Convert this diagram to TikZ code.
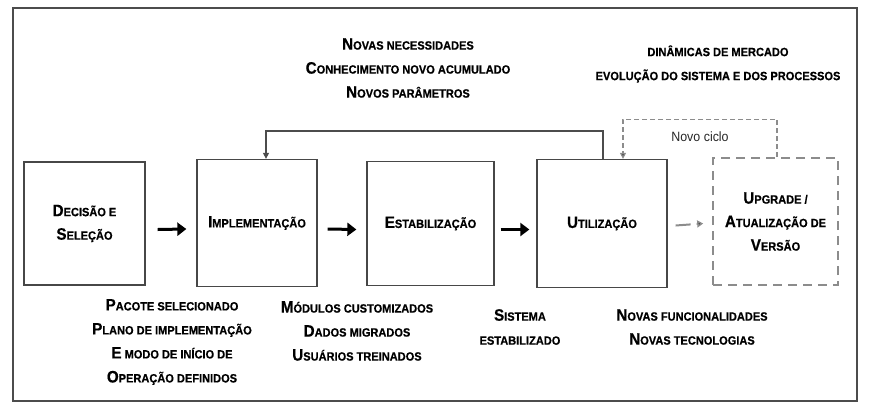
\documentclass[tikz,border=0pt]{standalone}
\usepackage{fontspec}
\setmainfont{Liberation Sans}
\newfontfamily\nb{Liberation Sans}[FakeStretch=0.92,BoldFeatures={FakeBold=0.6}]
\usetikzlibrary{arrows.meta}
\newcommand\SC[2]{{\fontsize{16.5}{16.5}\selectfont #1}{\fontsize{12}{12}\selectfont #2}}
\begin{document}
\begin{tikzpicture}[x=1pt,y=-1pt,
  lbl/.style={align=center,inner sep=0pt,font=\nb\bfseries\fontsize{12}{24}\selectfont},
  stage/.style={draw=black!72,line width=1.3pt,inner sep=0pt,align=center,font=\nb\bfseries\fontsize{12}{23.5}\selectfont},
  dstage/.style={stage,draw=black!45,dash pattern=on 9pt off 6pt,line width=1.6pt},
  bigarrow/.style={line width=3pt,-{Triangle[length=9pt,width=13pt]}},
  fb/.style={line width=1.3pt,draw=black!70,-{Triangle[length=6pt,width=6pt]}},
  dfb/.style={line width=1.3pt,draw=black!45,dash pattern=on 5pt off 3pt,-{Triangle[length=6pt,width=6pt,fill=black!80]}}
]
\useasboundingbox (0,0) rectangle (870,416);
\node[draw=black!70,line width=1.3pt,minimum width=844,minimum height=393,inner sep=0pt] (frame) at (435,204.5) {};

\node[stage,minimum width=121,minimum height=123] (b1) at (84.5,223.5) {\SC{D}{ECISÃO E}\\\SC{S}{ELEÇÃO}};
\node[stage,minimum width=120,minimum height=127] (b2) at (257,223) {\SC{I}{MPLEMENTAÇÃO}};
\node[stage,minimum width=127,minimum height=124] (b3) at (430.5,223.5) {\SC{E}{STABILIZAÇÃO}};
\node[stage,minimum width=130,minimum height=128] (b4) at (602,223.5) {\SC{U}{TILIZAÇÃO}};
\node[dstage,minimum width=125,minimum height=127] (b5) at (775.5,221.5) {\SC{U}{PGRADE /}\\\SC{A}{TUALIZAÇÃO DE}\\\SC{V}{ERSÃO}};

\draw[bigarrow] ([shift={(12,6)}]b1.east) -- ([shift={(-10,6)}]b2.west);
\draw[bigarrow] ([shift={(10,6)}]b2.east) -- ([shift={(-10,6)}]b3.west);
\draw[bigarrow] ([shift={(6,6)}]b3.east) -- ([shift={(-7,6)}]b4.west);
\draw[line width=2pt,draw=black!45,dash pattern=on 15pt off 6pt,-{Triangle[length=6pt,width=7pt,fill=black!85]}] ([shift={(8,2)}]b4.east) -- ([shift={(-9,2)}]b5.west);

\draw[fb] ([xshift=1]b4.north) -- ++(0,-28) -| ([xshift=9]b2.north);
\draw[dfb] ([xshift=1.5]b5.north) -- ++(0,-38) -| ([xshift=21]b4.north);
\node[font=\fontsize{13.5}{13.5}\selectfont,text=black!85,inner sep=0pt] (nc) at (700,137) {\nb Novo ciclo};

\node[lbl] (t1) at (408,68) {\SC{N}{OVAS NECESSIDADES}\\\SC{C}{ONHECIMENTO NOVO ACUMULADO}\\\SC{N}{OVOS PARÂMETROS}};
\node[lbl] (t2) at (718,64) {DINÂMICAS DE MERCADO\\EVOLUÇÃO DO SISTEMA E DOS PROCESSOS};
\node[lbl] (t3) at (172,342) {\SC{P}{ACOTE SELECIONADO}\\\SC{P}{LANO DE IMPLEMENTAÇÃO}\\\SC{E}{ MODO DE INÍCIO DE}\\\SC{O}{PERAÇÃO DEFINIDOS}};
\node[lbl] (t4) at (357,331) {\SC{M}{ÓDULOS CUSTOMIZADOS}\\\SC{D}{ADOS MIGRADOS}\\\SC{U}{SUÁRIOS TREINADOS}};
\node[lbl] (t5) at (520,327) {\SC{S}{ISTEMA}\\ESTABILIZADO};
\node[lbl] (t6) at (692,327) {\SC{N}{OVAS FUNCIONALIDADES}\\\SC{N}{OVAS TECNOLOGIAS}};
\end{tikzpicture}
\end{document}
